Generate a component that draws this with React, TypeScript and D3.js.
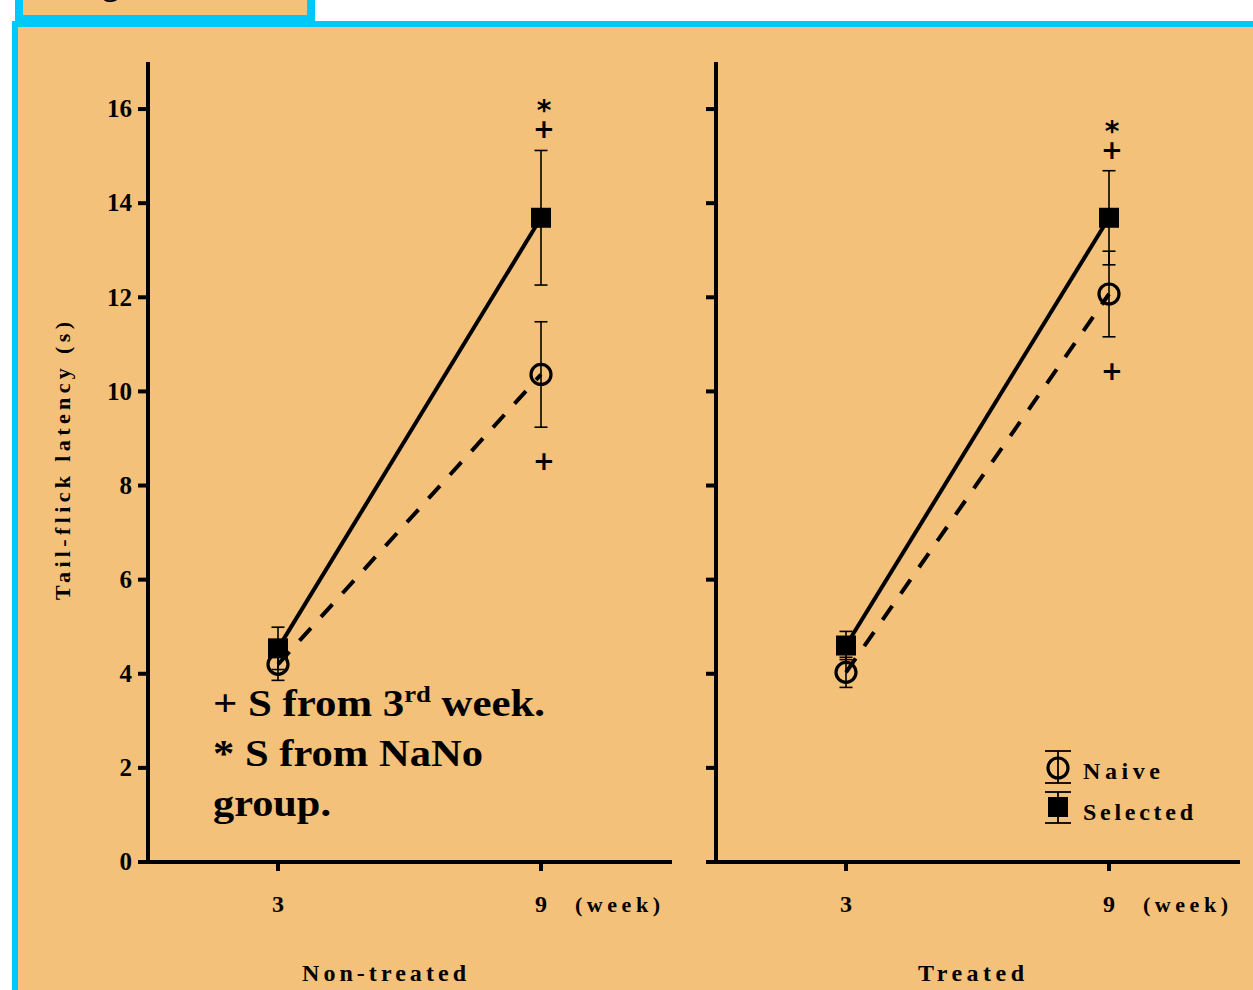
import React from 'react';
import * as d3 from 'd3';

// data (tail-flick latency, seconds)
const weeks = [3, 9];
const panels = ['Non-treated', 'Treated'];
const naiveMean = [[4.2, 10.36], [4.03, 12.07]];
const naiveErr = [[0.34, 1.12], [0.32, 0.91]];
const selectedMean = [[4.54, 13.69], [4.6, 13.69]];
const selectedErr = [[0.45, 1.43], [0.3, 1.0]];
const yTicks = [0, 2, 4, 6, 8, 10, 12, 14, 16];
// significance marks above/below the week-9 points
const marksAbove = ['*', '+'];
const marksBelow = ['+'];

const W = 1253;
const H = 990;
const BG = '#F3C17A';
const CYAN = '#00C8F8';
const FONT = '"Liberation Serif", "Times New Roman", serif';
const SYM = '"DejaVu Sans", sans-serif';

const y = d3.scaleLinear().domain([0, 17]).range([862, 62]);
const panelX = [
  d3.scaleLinear().domain([3, 9]).range([278, 541]),
  d3.scaleLinear().domain([3, 9]).range([846, 1109]),
];
const axisLeft = [148, 716];
const axisRight = [672, 1240];
const titleX = [384, 971];
const titleLen = [164, 106];

const ErrBar: React.FC<{ x: number; lo: number; hi: number; w?: number }> = ({ x, lo, hi, w = 6.5 }) => (
  <g stroke="#000" strokeWidth={1.6}>
    <line x1={x} x2={x} y1={y(lo)} y2={y(hi)} />
    <line x1={x - w} x2={x + w} y1={y(lo)} y2={y(lo)} />
    <line x1={x - w} x2={x + w} y1={y(hi)} y2={y(hi)} />
  </g>
);

const Panel: React.FC<{ p: number }> = ({ p }) => {
  const x = panelX[p];
  const ax = axisLeft[p];
  const line = d3.line<number>().x((d, i) => x(weeks[i])).y(d => y(d));
  const mx = x(9);
  // significance marks sit relative to the ends of the week-9 error bars
  const topY = y(selectedMean[p][1] + selectedErr[p][1]);
  const botY = y(naiveMean[p][1] - naiveErr[p][1]);
  return (
    <g>
      {/* axes */}
      <line x1={ax} x2={ax} y1={y(17)} y2={y(0) + 2} stroke="#000" strokeWidth={4} />
      <line x1={ax - 10} x2={axisRight[p]} y1={y(0)} y2={y(0)} stroke="#000" strokeWidth={4} />
      {yTicks.map(t => (
        <g key={t}>
          <line x1={ax - 10} x2={ax} y1={y(t)} y2={y(t)} stroke="#000" strokeWidth={4} />
          {p === 0 && (
            <text x={ax - 16} y={y(t)} dy="0.33em" textAnchor="end" fontSize={25} fontWeight="bold" fontFamily={FONT}>
              {t}
            </text>
          )}
        </g>
      ))}
      {weeks.map(w => (
        <g key={w}>
          <line x1={x(w)} x2={x(w)} y1={y(0)} y2={y(0) + 9} stroke="#000" strokeWidth={4} />
          <text x={x(w)} y={912} textAnchor="middle" fontSize={24} fontWeight="bold" fontFamily={FONT}>{w}</text>
        </g>
      ))}
      <text x={x(9) + 34} y={912} fontSize={22} fontWeight="bold" fontFamily={FONT}
        textLength={85} lengthAdjust="spacing">(week)</text>
      <text x={titleX[p] - titleLen[p] / 2} y={981} fontSize={24} fontWeight="bold" fontFamily={FONT}
        textLength={titleLen[p]} lengthAdjust="spacing">
        {panels[p]}
      </text>

      {/* lines */}
      <path d={line(naiveMean[p]) || ''} fill="none" stroke="#000" strokeWidth={4} strokeDasharray="17 15" />
      <path d={line(selectedMean[p]) || ''} fill="none" stroke="#000" strokeWidth={4} />

      {/* error bars */}
      {weeks.map((w, i) => (
        <g key={'e' + w}>
          <ErrBar x={x(w)} lo={naiveMean[p][i] - naiveErr[p][i]} hi={naiveMean[p][i] + naiveErr[p][i]} />
          <ErrBar x={x(w)} lo={selectedMean[p][i] - selectedErr[p][i]} hi={selectedMean[p][i] + selectedErr[p][i]} />
        </g>
      ))}

      {/* markers */}
      {weeks.map((w, i) => (
        <g key={'m' + w}>
          <circle cx={x(w)} cy={y(naiveMean[p][i])} r={10} fill="none" stroke="#000" strokeWidth={3.2} />
          <rect x={x(w) - 10} y={y(selectedMean[p][i]) - 10} width={20} height={20} fill="#000" />
        </g>
      ))}

      {/* significance marks */}
      {marksAbove.map((m, i) => (
        <text key={'a' + i} x={mx + 3} y={m === '*' ? topY - 30 : topY - 12} textAnchor="middle"
          fontSize={m === '*' ? 28 : 26} fontWeight="bold" fontFamily={SYM}>
          {m}
        </text>
      ))}
      {marksBelow.map((m, i) => (
        <text key={'b' + i} x={mx + 3} y={botY + 43} textAnchor="middle" fontSize={26} fontWeight="bold"
          fontFamily={SYM}>
          {m}
        </text>
      ))}
    </g>
  );
};

const App: React.FC = () => {
  const lx = 1058;
  return (
    <svg width={W} height={H} style={{ position: 'absolute', left: 0, top: 0, display: 'block' }}>
      <rect width={W} height={H} fill="#fff" />
      {/* tab at top */}
      <rect x={15} y={-10} width={300} height={31} fill={CYAN} />
      <rect x={23} y={-10} width={284} height={25} fill={BG} />
      <text x={74} y={-5} fontSize={32} fontWeight="bold" fontFamily={FONT}>Fig.</text>
      {/* main panel */}
      <rect x={12} y={21} width={W} height={H} fill={CYAN} />
      <rect x={18} y={27} width={W} height={H} fill={BG} />

      <text transform="translate(70,600) rotate(-90)" fontSize={22} fontWeight="bold"
        fontFamily={FONT} textLength={278} lengthAdjust="spacing">
        Tail-flick latency (s)
      </text>

      <Panel p={0} />
      <Panel p={1} />

      {/* note */}
      <g fontFamily={FONT} fontWeight="bold" fontSize={37}>
        <text x={213} y={716} textLength={332} lengthAdjust="spacingAndGlyphs">
          + S from 3<tspan fontSize={23} dy={-14}>rd</tspan><tspan dy={14}> week.</tspan>
        </text>
        <text x={213} y={766} textLength={270} lengthAdjust="spacingAndGlyphs">* S from NaNo</text>
        <text x={213} y={816} textLength={118} lengthAdjust="spacingAndGlyphs">group.</text>
      </g>

      {/* legend */}
      <g>
        <line x1={lx} x2={lx} y1={751} y2={783} stroke="#000" strokeWidth={1.8} />
        <line x1={lx - 13} x2={lx + 13} y1={751} y2={751} stroke="#000" strokeWidth={1.8} />
        <line x1={lx - 13} x2={lx + 13} y1={783} y2={783} stroke="#000" strokeWidth={1.8} />
        <circle cx={lx} cy={768} r={10} fill="none" stroke="#000" strokeWidth={3.2} />
        <text x={1083} y={779} fontSize={24} fontWeight="bold" fontFamily={FONT}
          textLength={77} lengthAdjust="spacing">Naive</text>

        <line x1={lx} x2={lx} y1={792} y2={823} stroke="#000" strokeWidth={1.8} />
        <line x1={lx - 13} x2={lx + 13} y1={792} y2={792} stroke="#000" strokeWidth={1.8} />
        <line x1={lx - 13} x2={lx + 13} y1={823} y2={823} stroke="#000" strokeWidth={1.8} />
        <rect x={lx - 10} y={797} width={20} height={20} fill="#000" />
        <text x={1083} y={820} fontSize={24} fontWeight="bold" fontFamily={FONT}
          textLength={110} lengthAdjust="spacing">Selected</text>
      </g>
    </svg>
  );
};

export default App;
